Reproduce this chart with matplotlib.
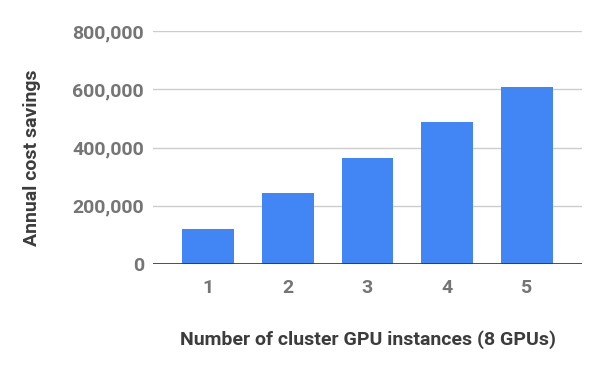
import matplotlib
matplotlib.use("Agg")
import matplotlib.pyplot as plt
from matplotlib.ticker import FuncFormatter

categories = ["1", "2", "3", "4", "5"]
savings = [120000, 243000, 364000, 487000, 608000]
yticks = [0, 200000, 400000, 600000, 800000]

plt.rcParams['font.family'] = ['Roboto', 'DejaVu Sans']

fig = plt.figure(figsize=(6, 3.71), dpi=100)
ax = fig.add_axes([0.255, 0.2884, 0.715, 0.628])

x = list(range(len(categories)))
ax.bar(x, savings, width=0.65, color="#4285F4", zorder=3)

ax.set_xlim(-0.69, 4.69)
ax.set_ylim(0, 800000)
ax.set_yticks(yticks)
ax.yaxis.set_major_formatter(FuncFormatter(lambda v, p: f"{int(v):,}"))
ax.set_xticks(x)
ax.set_xticklabels(categories)

ax.grid(axis="y", color="#cccccc", linewidth=1, zorder=0)
ax.axhline(0, color="#333333", linewidth=1.2, zorder=4)
for s in ax.spines.values():
    s.set_visible(False)
ax.tick_params(axis="both", length=0, labelsize=14, labelcolor="#757575")
ax.tick_params(axis="y", pad=6.5)
ax.tick_params(axis="x", pad=11)
for lbl in ax.get_xticklabels() + ax.get_yticklabels():
    lbl.set_fontweight("bold")

fig.text(0.6125, 1 - 340 / 371, "Number of cluster GPU instances (8 GPUs)",
         fontsize=14, fontweight="bold", color="#3c3c3c",
         ha="center", va="center")
fig.text(32 / 600, 1 - 158 / 371, "Annual cost savings", fontsize=14,
         fontweight="bold", color="#3c3c3c", rotation=90,
         ha="center", va="center")

fig.savefig("out.png", dpi=100)
